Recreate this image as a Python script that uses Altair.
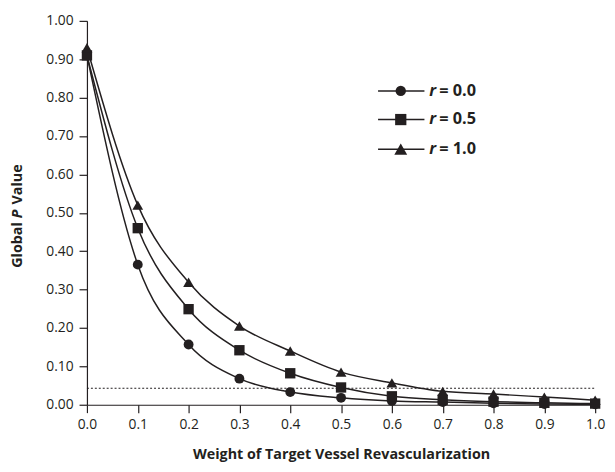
import altair as alt
import pandas as pd

weights = [0.0, 0.1, 0.2, 0.3, 0.4, 0.5, 0.6, 0.7, 0.8, 0.9, 1.0]
p_r00 = [0.91, 0.365, 0.157, 0.068, 0.033, 0.018, 0.010, 0.007, 0.004, 0.002, 0.001]
p_r05 = [0.91, 0.46, 0.249, 0.142, 0.082, 0.045, 0.022, 0.013, 0.008, 0.005, 0.003]
p_r10 = [0.93, 0.52, 0.319, 0.205, 0.140, 0.085, 0.057, 0.035, 0.028, 0.020, 0.012]
series_names = ["r = 0.0", "r = 0.5", "r = 1.0"]
legend_values = ["= 0.0", "= 0.5", "= 1.0"]
shapes = ["circle", "square", "triangle-up"]
marker_sizes = [100, 120, 160]
threshold = [0.043]
y_ticks = [0.0, 0.1, 0.2, 0.3, 0.4, 0.5, 0.6, 0.7, 0.8, 0.9, 1.0]

INK = "#231f20"
FONT = "Open Sans"

rows = []
for name, vals in zip(series_names, [p_r00, p_r05, p_r10]):
    for w, p in zip(weights, vals):
        rows.append({"weight": w, "p": p, "series": name})
df = pd.DataFrame(rows)

x_axis = alt.Axis(values=weights, format=".1f",
                  title="Weight of Target Vessel Revascularization",
                  titleFontSize=14.5, titleFontWeight="bold",
                  titlePadding=16, labelPadding=5,
                  labelOverlap=False, labelFlush=False)
y_axis = alt.Axis(values=y_ticks, format=".2f", title=None, labelPadding=6,
                  labelOverlap=False, labelFlush=False, tickCount=11)

x_enc = alt.X("weight:Q", scale=alt.Scale(domain=[0, 1]), axis=x_axis)
y_enc = alt.Y("p:Q", scale=alt.Scale(domain=[0, 1]), axis=y_axis)

lines = alt.Chart(df).mark_line(color=INK, strokeWidth=1.5, interpolate="monotone").encode(
    x=x_enc, y=y_enc, detail="series:N")

points = alt.Chart(df).mark_point(filled=True, color=INK, opacity=1).encode(
    x=x_enc, y=y_enc,
    shape=alt.Shape("series:N", scale=alt.Scale(domain=series_names, range=shapes), legend=None),
    size=alt.Size("series:N", scale=alt.Scale(domain=series_names, range=marker_sizes), legend=None))

thr = alt.Chart(pd.DataFrame({"t": threshold})).mark_rule(
    color=INK, strokeDash=[2, 2], strokeWidth=1.2).encode(
    y=alt.Y("t:Q", axis=y_axis), x=alt.value(0), x2=alt.value(515))

layers = [lines, points, thr]

leg_y = [71, 100, 130]
for name, val, shp, sz, yy in zip(series_names, legend_values, shapes, marker_sizes, leg_y):
    one = pd.DataFrame({"name": [name], "val": [val]})
    layers.append(alt.Chart(one).mark_rule(color=INK, strokeWidth=1.5).encode(
        x=alt.value(295), x2=alt.value(342), y=alt.value(yy)))
    layers.append(alt.Chart(one).mark_point(filled=True, color=INK, opacity=1, size=sz + 10, shape=shp).encode(
        x=alt.value(318), y=alt.value(yy)))
    layers.append(alt.Chart(one).mark_text(text="r", font=FONT, fontSize=16.5, fontWeight="bold",
                                           fontStyle="italic", color=INK, align="left",
                                           baseline="middle").encode(
        x=alt.value(347), y=alt.value(yy)))
    layers.append(alt.Chart(one).mark_text(font=FONT, fontSize=16.5, fontWeight="bold",
                                           color=INK, align="left", baseline="middle").encode(
        text="val:N", x=alt.value(357), y=alt.value(yy)))

# y-axis title with italic P
title_df = pd.DataFrame({"a": ["Global"], "b": ["P"], "c": ["Value"]})
anchor = 200
layers.append(alt.Chart(title_df).mark_text(font=FONT, fontSize=14.5, fontWeight="bold", color=INK,
                                            angle=270, align="right", baseline="middle").encode(
    text="a:N", x=alt.value(-70), y=alt.value(anchor + 4)))
layers.append(alt.Chart(title_df).mark_text(font=FONT, fontSize=14.5, fontWeight="bold", fontStyle="italic",
                                            color=INK, angle=270, align="left", baseline="middle").encode(
    text="b:N", x=alt.value(-70), y=alt.value(anchor)))
layers.append(alt.Chart(title_df).mark_text(font=FONT, fontSize=14.5, fontWeight="bold", color=INK,
                                            angle=270, align="left", baseline="middle").encode(
    text="c:N", x=alt.value(-70), y=alt.value(anchor - 14)))

chart = alt.layer(*layers).properties(
    width=515, height=389,
    autosize=alt.AutoSizeParams(type="none"),
    padding={"left": 80, "top": 10, "right": 12, "bottom": 57},
).configure_view(stroke=None).configure_axis(
    grid=False, domainColor=INK, tickColor=INK, labelColor=INK, titleColor=INK,
    labelFont=FONT, titleFont=FONT, labelFontSize=14, tickSize=8, domainWidth=1.2, tickWidth=1.2
)

chart.save("out.html", embed_options={"renderer": "svg", "actions": False})
